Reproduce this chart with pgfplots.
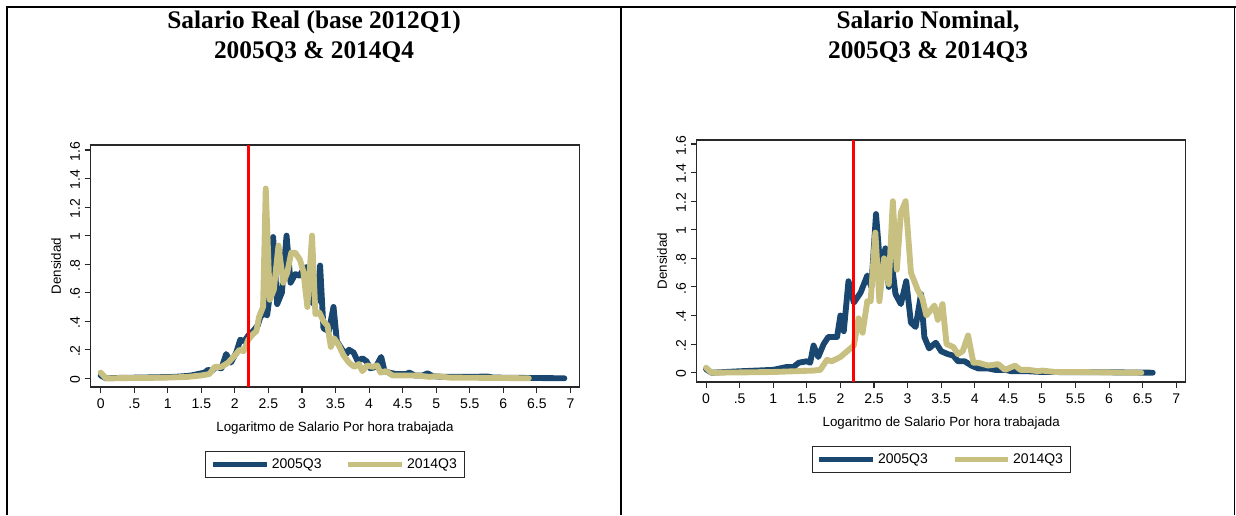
\documentclass[border=0pt]{standalone}
\usepackage{fontspec}
\setmainfont{Liberation Sans}
\newfontfamily\titlefont{Liberation Serif}
\usepackage{pgfplots}
\pgfplotsset{compat=1.18}

\definecolor{statanavy}{RGB}{26,71,111}
\definecolor{statakhaki}{RGB}{200,192,128}
\definecolor{frameg}{RGB}{40,40,40}

\pgfplotsset{
  densplot/.style={
    scale only axis,
    axis line style={line width=1.1pt, frameg},
    tick align=outside,
    xtick pos=bottom, ytick pos=left,
    major tick length=4.5pt,
    tick style={frameg, line width=0.8pt},
    xtick={0,0.5,1,1.5,2,2.5,3,3.5,4,4.5,5,5.5,6,6.5,7},
    xticklabels={0,.5,1,1.5,2,2.5,3,3.5,4,4.5,5,5.5,6,6.5,7},
    ytick={0,0.2,0.4,0.6,0.8,1,1.2,1.4,1.6},
    yticklabels={0,.2,.4,.6,.8,1,1.2,1.4,1.6},
    ticklabel style={font=\fontsize{10.5}{12}\selectfont},
    xticklabel style={yshift=-1pt},
    yticklabel style={rotate=90, anchor=south, xshift=-1pt},
    xlabel={Logaritmo de Salario Por hora trabajada},
    ylabel={Densidad},
    label style={font=\fontsize{10}{12}\selectfont},
    xlabel style={yshift=-3pt},
    ylabel style={yshift=0pt},
    legend columns=2,
    legend cell align=left,
    legend style={draw=frameg, line width=0.8pt, font=\fontsize{10.5}{12}\selectfont,
      inner xsep=3.5pt, inner ysep=3.2pt,
      at={(0.5,-0.264)}, anchor=north,
      /tikz/every even column/.append style={column sep=16pt}},
    legend image code/.code={\draw[#1, line width=4pt, line cap=butt] (0pt,0pt) -- (40pt,0pt);},
    every axis plot/.append style={line join=round, line cap=round},
  },
  navyline/.style={statanavy, line width=4.4pt},
  khakiline/.style={statakhaki, line width=4.4pt},
  cutline/.style={red, line width=2.2pt, line cap=butt},
}

\begin{document}
\begin{tikzpicture}
\useasboundingbox (0pt,0pt) rectangle (927pt,386.25pt);

% panel rules
\draw[line width=1.1pt] (5.25pt,0pt) -- (5.25pt,381pt) -- (927pt,381pt);
\draw[line width=1.1pt] (465.75pt,0pt) -- (465.75pt,381pt);
\draw[line width=1.1pt] (925.9pt,0pt) -- (925.9pt,381pt);

% titles
\tikzset{ttl/.style={font=\titlefont\bfseries\fontsize{19}{22}\selectfont}}
\node[ttl] at (235.5pt,369.75pt) {Salario Real (base 2012Q1)};
\node[ttl] at (235.5pt,347.25pt) {2005Q3 \& 2014Q4};
\node[ttl] at (696pt,369.75pt) {Salario Nominal,};
\node[ttl] at (696pt,347.25pt) {2005Q3 \& 2014Q3};

% real wage
\begin{axis}[densplot,
  at={(68pt,96pt)}, anchor=south west,
  width=366.5pt, height=181.5pt,
  xmin=-0.149, xmax=7.133, ymin=-0.061, ymax=1.635]
\addplot[navyline] coordinates {
(0,0.02)(0.08,0.0)(0.3,0.003)(0.6,0.005)(0.9,0.008)(1.1,0.01)(1.25,0.015)(1.35,0.02)
(1.45,0.03)(1.55,0.04)(1.6,0.06)(1.65,0.05)(1.72,0.08)(1.8,0.07)(1.87,0.17)(1.94,0.11)
(2.02,0.18)(2.08,0.27)(2.14,0.26)(2.2,0.30)(2.27,0.33)(2.34,0.37)(2.38,0.43)(2.44,0.46)
(2.48,0.44)(2.52,0.58)(2.57,0.99)(2.63,0.52)(2.7,0.6)(2.77,1.0)(2.83,0.67)(2.9,0.73)
(2.96,0.72)(3.02,0.76)(3.06,0.78)(3.12,0.55)(3.18,0.52)(3.23,0.55)(3.27,0.79)(3.32,0.35)
(3.4,0.33)(3.47,0.5)(3.52,0.26)(3.6,0.2)(3.66,0.17)(3.7,0.2)(3.77,0.18)(3.83,0.12)
(3.9,0.14)(3.96,0.12)(4.02,0.07)(4.1,0.08)(4.18,0.15)(4.23,0.05)(4.3,0.04)(4.4,0.03)
(4.55,0.03)(4.6,0.04)(4.68,0.02)(4.8,0.02)(4.87,0.035)(4.95,0.015)(5.1,0.01)(5.4,0.01)
(5.77,0.012)(5.85,0.005)(6.2,0.003)(6.5,0.002)(6.91,0.0)};
\addlegendentry{2005Q3}
\addplot[khakiline] coordinates {
(0,0.04)(0.08,0.0)(0.5,0.002)(1.0,0.005)(1.3,0.01)(1.5,0.02)(1.62,0.03)(1.7,0.08)
(1.8,0.08)(1.9,0.11)(2.0,0.16)(2.07,0.2)(2.13,0.19)(2.2,0.27)(2.27,0.31)(2.32,0.33)
(2.36,0.43)(2.42,0.5)(2.46,1.33)(2.52,0.55)(2.58,0.62)(2.65,0.93)(2.72,0.67)(2.78,0.74)
(2.84,0.88)(2.9,0.88)(2.97,0.83)(3.02,0.75)(3.08,0.5)(3.15,1.0)(3.2,0.45)(3.26,0.46)
(3.32,0.4)(3.38,0.37)(3.43,0.22)(3.48,0.28)(3.55,0.23)(3.62,0.16)(3.7,0.11)(3.78,0.08)
(3.85,0.1)(3.9,0.05)(3.97,0.09)(4.05,0.08)(4.12,0.09)(4.17,0.04)(4.25,0.05)(4.35,0.02)
(4.5,0.02)(4.7,0.02)(4.9,0.01)(5.0,0.015)(5.2,0.005)(6.0,0.002)(6.38,0.0)};
\addlegendentry{2014Q3}
\addplot[cutline, forget plot] coordinates {(2.2,-0.061)(2.2,1.635)};
\end{axis}

% nominal wage
\begin{axis}[densplot,
  at={(522.5pt,99.75pt)}, anchor=south west,
  width=366.8pt, height=181.5pt,
  xmin=-0.140, xmax=7.141, ymin=-0.065, ymax=1.628]
\addplot[navyline] coordinates {
(0,0.025)(0.08,0.0)(0.5,0.01)(1.0,0.02)(1.2,0.04)(1.3,0.04)(1.38,0.07)(1.5,0.08)
(1.55,0.07)(1.6,0.19)(1.67,0.11)(1.75,0.2)(1.82,0.25)(1.95,0.25)(2.0,0.4)(2.05,0.29)
(2.12,0.64)(2.2,0.49)(2.3,0.56)(2.4,0.68)(2.46,0.6)(2.53,1.11)(2.6,0.7)(2.67,0.87)
(2.72,0.6)(2.76,0.78)(2.82,0.55)(2.9,0.48)(2.98,0.64)(3.05,0.35)(3.12,0.32)(3.2,0.55)
(3.25,0.25)(3.32,0.17)(3.42,0.21)(3.5,0.15)(3.6,0.13)(3.68,0.12)(3.75,0.08)(3.85,0.08)
(3.95,0.05)(4.05,0.03)(4.2,0.03)(4.3,0.02)(4.45,0.02)(4.55,0.01)(4.8,0.01)(5.0,0.005)
(6.0,0.003)(6.65,0.0)};
\addlegendentry{2005Q3}
\addplot[khakiline] coordinates {
(0,0.035)(0.08,0.0)(0.5,0.002)(1.0,0.005)(1.3,0.01)(1.6,0.015)(1.7,0.02)(1.8,0.09)
(1.87,0.08)(2.0,0.11)(2.1,0.15)(2.2,0.19)(2.27,0.38)(2.33,0.28)(2.4,0.5)(2.45,0.5)
(2.52,0.98)(2.58,0.5)(2.65,0.8)(2.72,0.62)(2.78,1.2)(2.84,0.72)(2.9,1.12)(2.97,1.2)
(3.05,0.7)(3.15,0.58)(3.22,0.52)(3.28,0.4)(3.4,0.47)(3.45,0.37)(3.52,0.48)(3.58,0.2)
(3.68,0.18)(3.75,0.13)(3.82,0.15)(3.9,0.26)(3.98,0.07)(4.05,0.07)(4.2,0.05)(4.35,0.06)
(4.45,0.02)(4.6,0.05)(4.68,0.02)(4.8,0.02)(4.95,0.01)(5.0,0.015)(5.2,0.005)(5.5,0.005)
(6.0,0.002)(6.48,0.0)};
\addlegendentry{2014Q3}
\addplot[cutline, forget plot] coordinates {(2.2,-0.065)(2.2,1.628)};
\end{axis}
\end{tikzpicture}
\end{document}
